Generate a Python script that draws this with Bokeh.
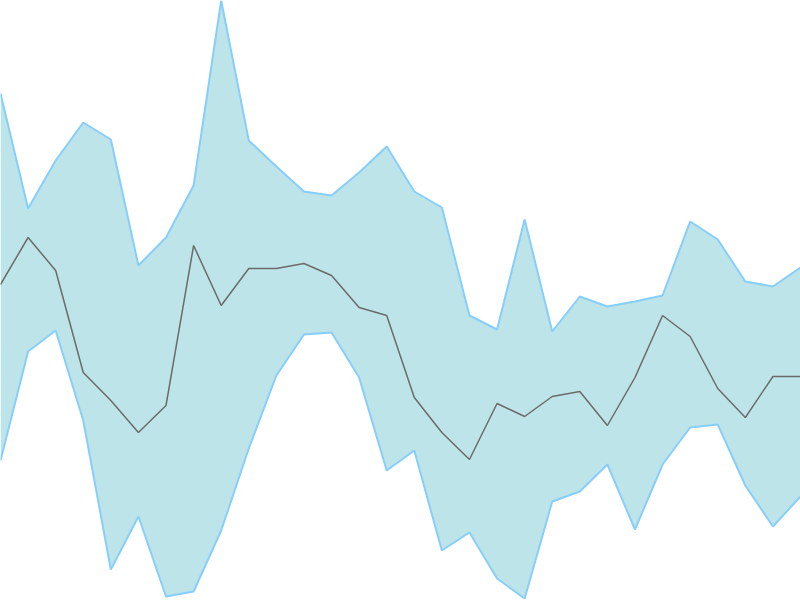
from bokeh.plotting import figure
from bokeh.models import Range1d
from bokeh.embed import file_html
from bokeh.resources import INLINE

# Series values (0 = bottom of frame, 600 = top)
index = list(range(30))
upper_px = [93, 208, 160, 122, 139, 265, 237, 185, 0, 140, 166, 191, 195, 172, 146,
            191, 207, 315, 329, 219, 331, 296, 306, 301, 295, 221, 239, 281, 286, 267]
middle_px = [284, 237, 270, 372, 400, 432, 405, 245, 305, 268, 268, 263, 275, 307, 315,
             397, 432, 459, 403, 416, 396, 391, 425, 377, 315, 336, 388, 417, 376, 376]
lower_px = [460, 351, 330, 420, 569, 516, 596, 591, 530, 448, 375, 334, 332, 377, 470,
            450, 550, 532, 578, 598, 501, 491, 464, 529, 464, 427, 424, 485, 526, 496]

upper = [600 - v for v in upper_px]
middle = [600 - v for v in middle_px]
lower = [600 - v for v in lower_px]

p = figure(width=800, height=600, output_backend="svg", toolbar_location=None,
           x_range=Range1d(0, 29), y_range=Range1d(0, 600),
           min_border=0, min_border_left=0, min_border_right=0,
           min_border_top=0, min_border_bottom=0)
p.axis.visible = False
p.grid.visible = False
p.outline_line_color = None
p.background_fill_color = "white"
p.border_fill_color = "white"

p.varea(x=index, y1=lower, y2=upper, fill_color="#bde4e9", fill_alpha=1.0)
p.line(index, upper, line_color="#87cefa", line_width=2)
p.line(index, lower, line_color="#87cefa", line_width=2)
p.line(index, middle, line_color="#6b6b6b", line_width=1.5)

open("out.html", "w").write(file_html(p, INLINE))
